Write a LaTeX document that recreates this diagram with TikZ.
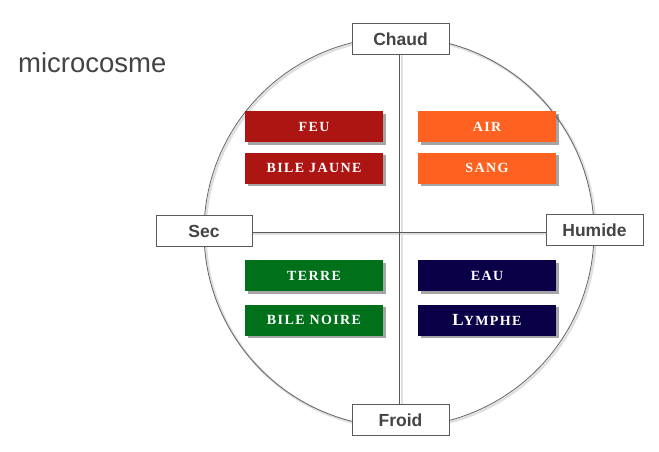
\documentclass[tikz,border=0pt]{standalone}
\usepackage{fontspec}
\setmainfont{Liberation Serif}
\setsansfont{Liberation Sans}
\newfontfamily\cpfont[LetterSpace=10]{Liberation Serif Bold}
\usetikzlibrary{shadows}
\definecolor{txtgray}{HTML}{444444}
\definecolor{linegray}{HTML}{5A5A5A}
\definecolor{feured}{HTML}{AD1513}
\definecolor{airorange}{HTML}{FF6120}
\definecolor{terregreen}{HTML}{00701A}
\definecolor{eaunavy}{HTML}{0A0048}
\tikzset{
  axisbox/.style={draw=linegray, line width=0.9pt, fill=white, minimum width=97pt, minimum height=31pt,
    inner sep=0pt, font=\sffamily\bfseries\fontsize{17.5}{18}\selectfont, text=txtgray},
  humbox/.style={fill=#1, minimum width=138pt, minimum height=31pt, inner sep=0pt,
    text=white, font=\cpfont\fontsize{14}{14}\selectfont,
    drop shadow={shadow xshift=2.5pt, shadow yshift=-2.5pt, opacity=0.5, fill=black!70}},
  axisline/.style={draw=linegray, line width=0.9pt},
}
\begin{document}
\begin{tikzpicture}[x=1pt,y=-1pt]
\useasboundingbox (0,0) rectangle (659,451);
% soft shadows
\draw[gray!25, line width=2.5pt] (400.5,233.5) circle[radius=195];
\draw[gray!25, line width=2pt] (401.5,55) -- (401.5,404);
\draw[gray!25, line width=2pt] (252,233.5) -- (546,233.5);
% circle
\draw[draw=gray!80!black, line width=0.8pt] (399,232) circle[radius=195];
% axis boxes
\node[axisbox] (chaud) at (400.5,39) {Chaud};
\node[axisbox] (froid) at (400.5,420) {Froid};
\node[axisbox, minimum width=96pt] (sec) at (204,231) {Sec};
\node[axisbox] (humide) at (594.5,230) {Humide};
\draw[axisline] (chaud.south -| 399,0) -- (froid.north -| 399,0);
\draw[axisline] (sec.east |- 0,232) -- (humide.west |- 0,232);
% title
\node[anchor=base west, inner sep=0pt, font=\sffamily\fontsize{27.5}{28}\selectfont, text=txtgray] (title) at (18,72) {microcosme};
% humour boxes
\node[humbox=feured] (feu) at (314,126.5) {FEU};
\node[humbox=feured] (bilej) at (314,168) {BILE JAUNE};
\node[humbox=airorange] (air) at (487,126.5) {AIR};
\node[humbox=airorange] (sang) at (487,168) {SANG};
\node[humbox=terregreen] (terre) at (314,275.5) {TERRE};
\node[humbox=terregreen] (bilen) at (314,320) {BILE NOIRE};
\node[humbox=eaunavy] (eau) at (487,275.5) {EAU};
\node[humbox=eaunavy] (lymphe) at (487,320) {{\fontsize{17}{17}\selectfont L}YMPHE};
\end{tikzpicture}
\end{document}
